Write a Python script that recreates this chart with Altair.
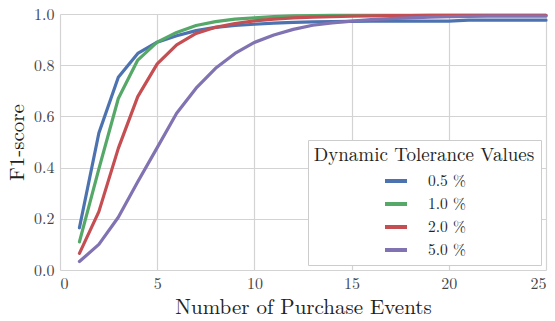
import altair as alt
import pandas as pd

# Number of purchase events on the x axis
events = list(range(1, 26))

# F1-score for each dynamic tolerance value
f1_tol_05 = [0.165, 0.535, 0.753, 0.846, 0.890, 0.915, 0.935, 0.948, 0.955, 0.960,
             0.964, 0.967, 0.969, 0.970, 0.971, 0.972, 0.972, 0.972, 0.972, 0.972,
             0.976, 0.976, 0.976, 0.976, 0.976]
f1_tol_10 = [0.110, 0.395, 0.670, 0.820, 0.890, 0.928, 0.955, 0.970, 0.980, 0.985,
             0.990, 0.993, 0.994, 0.995, 0.995, 0.995, 0.995, 0.995, 0.995, 0.995,
             0.995, 0.995, 0.995, 0.995, 0.995]
f1_tol_20 = [0.065, 0.228, 0.475, 0.677, 0.805, 0.879, 0.924, 0.948, 0.963, 0.973,
             0.980, 0.985, 0.988, 0.990, 0.992, 0.993, 0.994, 0.994, 0.995, 0.995,
             0.995, 0.995, 0.995, 0.995, 0.995]
f1_tol_50 = [0.033, 0.100, 0.206, 0.345, 0.478, 0.612, 0.710, 0.788, 0.846, 0.889,
             0.918, 0.940, 0.956, 0.965, 0.972, 0.978, 0.982, 0.985, 0.988, 0.990,
             0.991, 0.992, 0.992, 0.992, 0.992]

tolerance_labels = ["0.5 %", "1.0 %", "2.0 %", "5.0 %"]
tolerance_colors = ["#4C72B0", "#55A868", "#C44E52", "#8172B2"]

series = [f1_tol_05, f1_tol_10, f1_tol_20, f1_tol_50]
rows = []
for label, values in zip(tolerance_labels, series):
    for n, v in zip(events, values):
        rows.append({"events": n, "f1": v, "tolerance": label})
df = pd.DataFrame(rows)

FONT = "Latin Modern Roman"

axis_style = dict(
    grid=True,
    gridColor="#d3d3d3",
    gridWidth=1.2,
    domain=False,
    ticks=False,
    labelFont=FONT,
    labelFontSize=16,
    labelColor="#444444",
    titleFont=FONT,
    titleFontSize=21,
    titleFontWeight="normal",
    titleColor="#222222",
)

chart = (
    alt.Chart(df)
    .mark_line(strokeWidth=3.2, strokeCap="round", strokeJoin="round")
    .encode(
        x=alt.X(
            "events:Q",
            title="Number of Purchase Events",
            scale=alt.Scale(domain=[0, 25], nice=False, zero=False),
            axis=alt.Axis(values=[0, 5, 10, 15, 20, 25], format="d",
                          labelPadding=5, titlePadding=5, **axis_style),
        ),
        y=alt.Y(
            "f1:Q",
            title="F1-score",
            scale=alt.Scale(domain=[0, 1], nice=False),
            axis=alt.Axis(values=[0, 0.2, 0.4, 0.6, 0.8, 1.0], format=".1f",
                          labelPadding=6, titlePadding=6, **axis_style),
        ),
        color=alt.Color(
            "tolerance:N",
            scale=alt.Scale(domain=tolerance_labels, range=tolerance_colors),
            legend=alt.Legend(
                title="Dynamic Tolerance Values",
                orient="none",
                legendX=248,
                legendY=126,
                titleFont=FONT,
                titleFontSize=19,
                titleFontWeight="normal",
                titleColor="#222222",
                titleAnchor="middle",
                titleLimit=400,
                titlePadding=3,
                labelFont=FONT,
                labelFontSize=15.5,
                labelColor="#222222",
                labelOffset=19,
                symbolType="stroke",
                symbolStrokeWidth=4,
                symbolSize=484,
                symbolOffset=0,
                rowPadding=1,
                padding=6,
                strokeColor="#cccccc",
                fillColor="white",
            ),
        ),
    )
    .properties(
        width=486,
        height=256,
        padding={"left": 60, "top": 14, "right": 9, "bottom": 51},
        autosize=alt.AutoSizeParams(type="none"),
    )
    .configure(font=FONT)
    .configure_view(stroke=None)
)

chart.save("out.html", embed_options={"renderer": "svg", "actions": False})
